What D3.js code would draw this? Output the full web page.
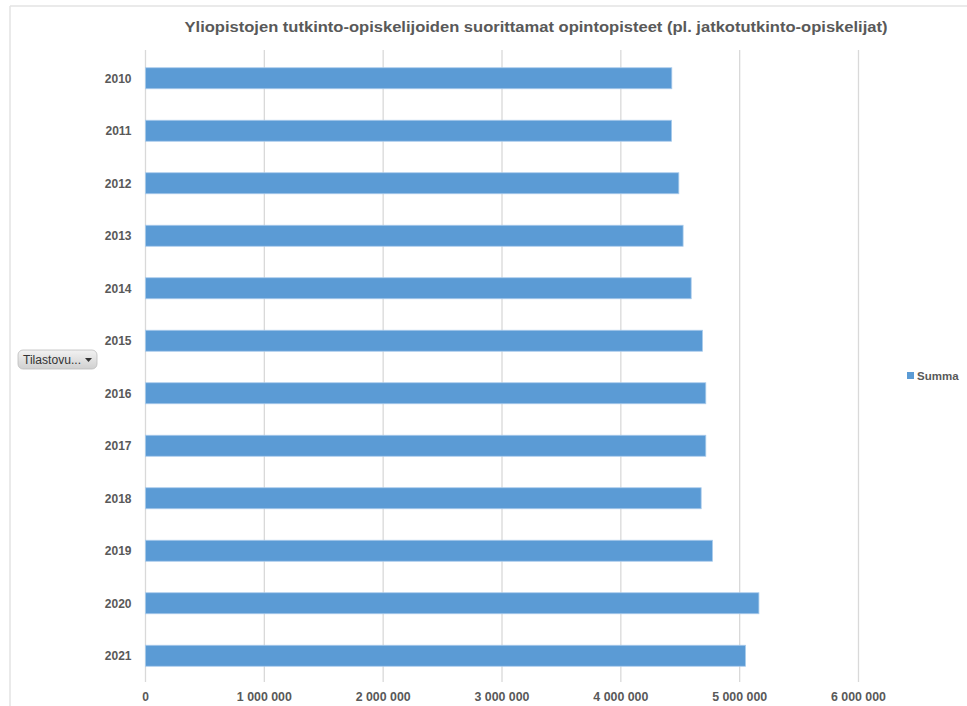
<!DOCTYPE html>
<html>
<head>
<meta charset="utf-8">
<script src="https://cdn.jsdelivr.net/npm/d3@7"></script>
<style>
  html, body { margin: 0; padding: 0; background: #fff; }
  svg { display: block; }
  text { font-family: "Liberation Sans", Arial, sans-serif; }
</style>
</head>
<body>
<svg id="chart" width="967" height="706"></svg>
<script>
// Opintopisteet vuosittain
const years = ["2010", "2011", "2012", "2013", "2014", "2015", "2016", "2017", "2018", "2019", "2020", "2021"];
const summa = [4429000, 4427000, 4488000, 4524000, 4592000, 4687000, 4715000, 4715000, 4676000, 4771000, 5162000, 5049000];
const xTicks = [0, 1000000, 2000000, 3000000, 4000000, 5000000, 6000000];
const titleText = "Yliopistojen tutkinto-opiskelijoiden suorittamat opintopisteet (pl. jatkotutkinto-opiskelijat)";
const seriesName = "Summa";
const filterLabel = "Tilastovu...";

const svg = d3.select("#chart");
const W = 967, H = 706;
const plot = { left: 145.5, right: 858.5, top: 52, bottom: 682 };
const barColor = "#5b9bd5";
const textColor = "#595959";
const gridColor = "#d9d9d9";

// kehys
svg.append("line").attr("x1", 10).attr("x2", W).attr("y1", 6).attr("y2", 6)
  .attr("stroke", "#e3e3e3").attr("stroke-width", 1.5);
svg.append("line").attr("x1", 10).attr("x2", 10).attr("y1", 6).attr("y2", H)
  .attr("stroke", "#e3e3e3").attr("stroke-width", 1.5);

const x = d3.scaleLinear().domain([0, 6000000]).range([plot.left, plot.right]);
const y = d3.scaleBand().domain(years).range([plot.top, plot.bottom]).paddingInner(0.6).paddingOuter(0.3);

const fmt = v => d3.format(",")(v).replace(/,/g, " ");

// pystysuuntainen ruudukko
svg.append("g").selectAll("line").data(xTicks).join("line")
  .attr("x1", d => x(d)).attr("x2", d => x(d))
  .attr("y1", plot.top - 2).attr("y2", plot.bottom)
  .attr("stroke", gridColor).attr("stroke-width", 1.3);

// x-akselin otsikot
svg.append("g").selectAll("text").data(xTicks).join("text")
  .attr("x", d => x(d)).attr("y", 701)
  .attr("text-anchor", "middle")
  .attr("font-size", 12).attr("font-weight", "bold").attr("fill", textColor)
  .each(function (d) {
    const t = d3.select(this).text(fmt(d));
    if (d > 0) t.attr("textLength", 55).attr("lengthAdjust", "spacingAndGlyphs");
  });

// palkit
svg.append("g").selectAll("rect").data(years).join("rect")
  .attr("x", x(0))
  .attr("y", d => y(d))
  .attr("height", y.bandwidth())
  .attr("width", (d, i) => x(summa[i]) - x(0))
  .attr("fill", barColor)
  .attr("stroke", "#a9cbeb").attr("stroke-width", 0.8);

// vuosiotsikot
svg.append("g").selectAll("text").data(years).join("text")
  .attr("x", 131.5).attr("y", d => y(d) + y.bandwidth() / 2 + 4.3)
  .attr("text-anchor", "end")
  .attr("font-size", 12).attr("font-weight", "bold").attr("fill", textColor)
  .text(d => d);

// otsikko
svg.append("text")
  .attr("x", 536).attr("y", 32)
  .attr("text-anchor", "middle")
  .attr("font-size", 15.5).attr("font-weight", "bold").attr("fill", textColor)
  .attr("textLength", 703).attr("lengthAdjust", "spacingAndGlyphs")
  .text(titleText);

// selite
svg.append("rect").attr("x", 907).attr("y", 372).attr("width", 7).attr("height", 7).attr("fill", barColor);
svg.append("text").attr("x", 917).attr("y", 380)
  .attr("font-size", 11.5).attr("font-weight", "bold").attr("fill", textColor)
  .text(seriesName);

// suodatinpainike
const defs = svg.append("defs");
const grad = defs.append("linearGradient").attr("id", "btnGrad").attr("x1", 0).attr("x2", 0).attr("y1", 0).attr("y2", 1);
grad.append("stop").attr("offset", "0%").attr("stop-color", "#f2f2f2");
grad.append("stop").attr("offset", "100%").attr("stop-color", "#d0d0d0");
const btn = svg.append("g").attr("transform", "translate(18,350)");
btn.append("rect").attr("width", 79).attr("height", 19).attr("rx", 5)
  .attr("fill", "url(#btnGrad)").attr("stroke", "#bdbdbd").attr("stroke-width", 0.8);
btn.append("text").attr("x", 5).attr("y", 14)
  .attr("font-size", 12).attr("fill", "#333")
  .attr("textLength", 58).attr("lengthAdjust", "spacingAndGlyphs")
  .text(filterLabel);
btn.append("path").attr("d", "M67,8 L74,8 L70.5,12 Z").attr("fill", "#333");
</script>
</body>
</html>
